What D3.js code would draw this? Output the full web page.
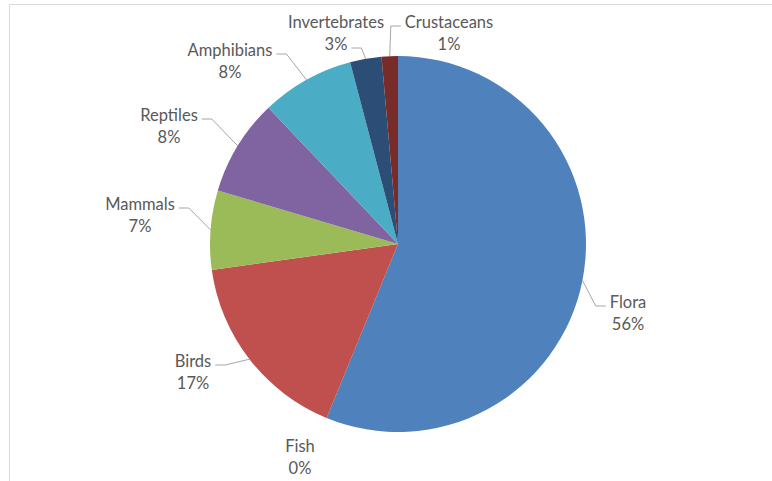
<!DOCTYPE html>
<html>
<head>
<meta charset="utf-8">
<script src="https://cdn.jsdelivr.net/npm/d3@7/dist/d3.min.js"></script>
<style>
  html, body { margin: 0; padding: 0; background: #fff; }
  svg { display: block; }
  text { font-family: Lato, "Open Sans", sans-serif; fill: #595959; }
</style>
</head>
<body>
<svg id="chart" width="772" height="481"></svg>
<script>
// Share of recorded species by group (%)
const categories = ["Flora", "Fish", "Birds", "Mammals", "Reptiles", "Amphibians", "Invertebrates", "Crustaceans"];
const shares     = [56.2, 0.0, 16.6, 6.8, 8.3, 8.0, 2.7, 1.4];
const colors     = ["#4F81BD", "#F79646", "#C0504D", "#9BBB59", "#8064A2", "#4BACC6", "#2C4D75", "#772C2A"];

// Label placement: text centre x, first-line baseline y, side the leader attaches to, which line
const labelLayout = {
  "Flora":         { x: 628, y: 308, side: "left",  line: 1 },
  "Fish":          { x: 300, y: 452, side: null,    line: 1 },
  "Birds":         { x: 193, y: 367, side: "right", line: 1 },
  "Mammals":       { x: 140, y: 210, side: "right", line: 1 },
  "Reptiles":      { x: 169, y: 121, side: "right", line: 1 },
  "Amphibians":    { x: 230, y: 56,  side: "right", line: 1 },
  "Invertebrates": { x: 336, y: 28,  side: "right", line: 2 },
  "Crustaceans":   { x: 449, y: 28,  side: "left",  line: 1 }
};

const svg = d3.select("#chart");
const cx = 398, cy = 244, R = 188;
const lineGap = 22;

// Plot-area frame
svg.append("path")
  .attr("d", "M9.5,481 V4.5 H772")
  .attr("fill", "none")
  .attr("stroke", "#d9d9d9")
  .attr("stroke-width", 1);

const data = categories.map((c, i) => ({ name: c, value: shares[i], color: colors[i] }));
const total = d3.sum(shares);

const pie = d3.pie().value(d => d.value).sort(null);
const arc = d3.arc().innerRadius(0).outerRadius(R);
const arcs = pie(data);

const g = svg.append("g").attr("transform", `translate(${cx},${cy})`);

g.selectAll("path.slice")
  .data(arcs.filter(a => a.data.value > 0))
  .join("path")
  .attr("class", "slice")
  .attr("d", arc)
  .attr("fill", d => d.data.color);

const fmt = v => Math.round(v / total * 100) + "%";

const labels = svg.append("g");
arcs.forEach(a => {
  const L = labelLayout[a.data.name];
  const t = labels.append("text")
    .attr("text-anchor", "middle")
    .attr("font-size", 16.5);
  t.append("tspan").attr("x", L.x).attr("y", L.y).text(a.data.name);
  t.append("tspan").attr("x", L.x).attr("y", L.y + lineGap).text(fmt(a.data.value));

  if (!L.side) return;
  const span = t.selectAll("tspan").nodes()[L.line - 1];
  const w = span.getComputedTextLength();
  const ly = L.y + (L.line - 1) * lineGap - 2;
  const edge = L.side === "right" ? L.x + w / 2 + 4 : L.x - w / 2 - 4;
  const dir = L.side === "right" ? 1 : -1;
  const elbow = edge + dir * 10;
  const mid = (a.startAngle + a.endAngle) / 2;
  const px = cx + R * Math.sin(mid), py = cy - R * Math.cos(mid);
  labels.append("path")
    .attr("d", `M${px},${py} L${elbow},${ly} L${edge},${ly}`)
    .attr("fill", "none")
    .attr("stroke", "#a6a6a6")
    .attr("stroke-width", 1);
});
</script>
</body>
</html>
